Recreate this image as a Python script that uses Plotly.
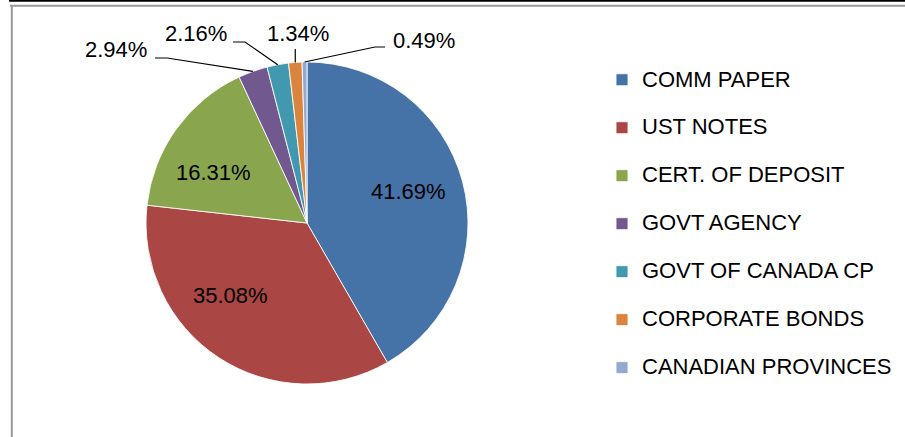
import math
import plotly.graph_objects as go

# ---- data ----
categories = ["COMM PAPER", "UST NOTES", "CERT. OF DEPOSIT", "GOVT AGENCY",
              "GOVT OF CANADA CP", "CORPORATE BONDS", "CANADIAN PROVINCES"]
shares = [41.69, 35.08, 16.31, 2.94, 2.16, 1.34, 0.49]
colors = ["#4572A7", "#AA4643", "#89A54E", "#71588F", "#4198AF", "#DB843D", "#93A9CF"]

W, H = 905, 437
FONT = "Liberation Sans, Arial, sans-serif"

def X(px):
    return px / W

def Y(py):
    return 1 - py / H

# pie geometry (pixels)
CX, CY, R = 307, 223, 161

fig = go.Figure()
fig.add_trace(go.Pie(
    labels=[f'<span style="font-size:22px">{c}</span><br> ' for c in categories],
    values=shares,
    marker=dict(colors=colors, line=dict(color="rgba(255,255,255,0.85)", width=1)),
    sort=False,
    direction="clockwise",
    rotation=0,
    textinfo="none",
    hoverinfo="label+percent",
    domain=dict(x=[X(CX - R), X(CX + R)], y=[Y(CY + R), Y(CY - R)]),
))

# label placement (pixel centres) - layout choice
inside_pos = {0: (408, 192), 1: (231, 295), 2: (213, 173)}
outside_pos = {3: (116, 50), 4: (196, 34), 5: (298, 34), 6: (424, 40)}
# elbows for leader lines
elbows = {3: [(155, 58), (167, 58)], 4: [(233, 42), (245, 42)], 5: None, 6: [(385, 47), (375, 47)]}

annotations = []
shapes = []
total = sum(shares)
cum = 0.0
for i, v in enumerate(shares):
    mid = (cum + v / 2) / total * 2 * math.pi
    cum += v
    ax = CX + R * math.sin(mid)
    ay = CY - R * math.cos(mid)
    txt = f"{v:.2f}%"
    if i in inside_pos:
        px, py = inside_pos[i]
    else:
        px, py = outside_pos[i]
        if elbows[i] is None:
            pts = [(ax, 49), (ax, ay)]
        else:
            pts = elbows[i] + [(ax, ay)]
        path = "M " + " L ".join(f"{X(a):.5f},{Y(b):.5f}" for a, b in pts)
        shapes.append(dict(type="path", xref="paper", yref="paper", path=path,
                           line=dict(color="black", width=1.2)))
    annotations.append(dict(x=X(px), y=Y(py), xref="paper", yref="paper", text=txt,
                            showarrow=False, xanchor="center", yanchor="middle",
                            font=dict(family=FONT, size=22, color="black")))

# frame lines
shapes += [
    dict(type="line", xref="paper", yref="paper", x0=X(9), x1=1, y0=Y(0.8), y1=Y(0.8),
         line=dict(color="black", width=2)),
    dict(type="line", xref="paper", yref="paper", x0=X(10), x1=1, y0=Y(5.8), y1=Y(5.8),
         line=dict(color="#999999", width=2)),
    dict(type="line", xref="paper", yref="paper", x0=X(11.8), x1=X(11.8), y0=Y(5), y1=0,
         line=dict(color="#999999", width=2)),
]

fig.update_layout(
    width=W, height=H,
    margin=dict(l=0, r=0, t=0, b=0, autoexpand=False),
    paper_bgcolor="white", plot_bgcolor="white",
    font=dict(family=FONT, color="black"),
    showlegend=True,
    legend=dict(x=X(602), y=Y(62), xanchor="left", yanchor="top",
                font=dict(family=FONT, size=17.3, color="black"),
                valign="top", bgcolor="rgba(0,0,0,0)", tracegroupgap=0),
    annotations=annotations,
    shapes=shapes,
)

fig.write_html("out.html",
               config={"displayModeBar": False},
               post_script="document.body.style.margin='0';document.body.style.overflow='hidden';")
